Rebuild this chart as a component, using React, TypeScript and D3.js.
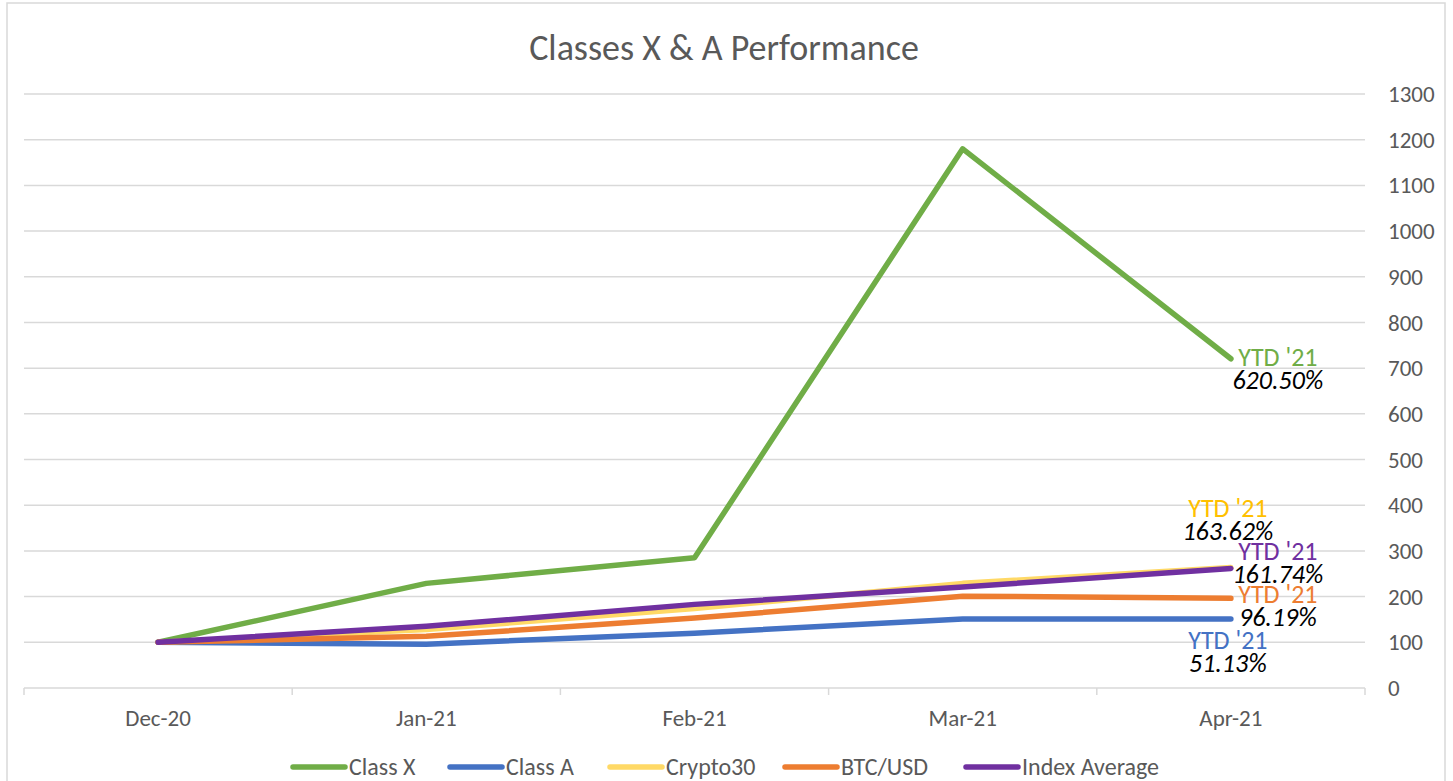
import React from 'react';
import * as d3 from 'd3';

const months = ['Dec-20', 'Jan-21', 'Feb-21', 'Mar-21', 'Apr-21'];
const classX = [100, 229, 285, 1180, 720.5];
const classA = [100, 96, 120, 151, 151.13];
const crypto30 = [100, 128, 174, 229, 263.62];
const btcUsd = [100, 113, 153, 201, 196.19];
const indexAvg = [100, 135, 183, 221, 261.74];
const yTicks = [0, 100, 200, 300, 400, 500, 600, 700, 800, 900, 1000, 1100, 1200, 1300];

const seriesNames = ['Class X', 'Class A', 'Crypto30', 'BTC/USD', 'Index Average'];
const seriesColors = ['#70AD47', '#4472C4', '#FFD966', '#ED7D31', '#7030A0'];
const labelColors = ['#70AD47', '#4472C4', '#FFC000', '#ED7D31', '#7030A0'];
const ytdLabels = ['620.50%', '51.13%', '163.62%', '96.19%', '161.74%'];
// label centre offsets relative to the last point (dx, dy of the "YTD '21" line)
const labelOffsets = [
  [47, -2],
  [-3, 21],
  [-3, -60],
  [47, -4],
  [47, -18],
];

const FONT = 'Carlito, Calibri, Lato, sans-serif';

const App = () => {
  const width = 1453;
  const height = 781;
  const left = 24;
  const right = 1365;
  const top = 94;
  const bottom = 688;

  const x = d3.scaleBand<string>().domain(months).range([left, right]);
  const y = d3.scaleLinear().domain([0, 1300]).range([bottom, top]);
  const cx = (m: string) => (x(m) as number) + x.bandwidth() / 2;

  const allSeries = [classX, classA, crypto30, btcUsd, indexAvg];
  const line = d3
    .line<number>()
    .x((d, i) => cx(months[i]))
    .y((d) => y(d));

  const legendX = [293, 450, 610, 785, 966];

  return (
    <div style={{ position: 'absolute', left: 0, top: 0 }}>
      <svg width={width} height={height} style={{ display: 'block', background: '#fff' }}>
        <rect x={7} y={3} width={1438} height={800} fill="#fff" stroke="#d9d9d9" strokeWidth={1.5} />
        <text x={724} y={47} dy="0.35em" textAnchor="middle" fontFamily={FONT} fontSize={36} fontWeight={300} fill="#595959">
          Classes X &amp; A Performance
        </text>

        {yTicks.map((t) => (
          <g key={t}>
            {t > 0 && (
              <line x1={left} x2={right} y1={y(t)} y2={y(t)} stroke="#d9d9d9" strokeWidth={1.5} />
            )}
            <text x={1388} y={y(t)} dy="0.35em" fontFamily={FONT} fontSize={23} fill="#595959">
              {t}
            </text>
          </g>
        ))}

        {/* category axis */}
        <line x1={left} x2={right} y1={bottom} y2={bottom} stroke="#d9d9d9" strokeWidth={1.5} />
        {d3.range(months.length + 1).map((i) => (
          <line
            key={i}
            x1={left + i * x.bandwidth()}
            x2={left + i * x.bandwidth()}
            y1={bottom}
            y2={bottom + 7}
            stroke="#d9d9d9"
            strokeWidth={1.5}
          />
        ))}
        {months.map((m) => (
          <text key={m} x={cx(m)} y={718} dy="0.35em" textAnchor="middle" fontFamily={FONT} fontSize={23} fill="#595959">
            {m}
          </text>
        ))}

        {allSeries.map((s, i) => (
          <path
            key={seriesNames[i]}
            d={line(s) as string}
            fill="none"
            stroke={seriesColors[i]}
            strokeWidth={5.5}
            strokeLinecap="round"
            strokeLinejoin="round"
          />
        ))}

        {allSeries.map((s, i) => {
          const px = cx(months[4]) + labelOffsets[i][0];
          const py = y(s[4]) + labelOffsets[i][1];
          return (
            <g key={'lbl' + i} fontFamily={FONT} fontSize={26} textAnchor="middle">
              <text x={px} y={py} dy="0.35em" fill={labelColors[i]}>
                YTD '21
              </text>
              <text x={px} y={py + 23} dy="0.35em" fill="#000" fontStyle="italic">
                {ytdLabels[i]}
              </text>
            </g>
          );
        })}

        {seriesNames.map((n, i) => (
          <g key={'leg' + n}>
            <line
              x1={legendX[i]}
              x2={legendX[i] + 52}
              y1={767}
              y2={767}
              stroke={seriesColors[i]}
              strokeWidth={5.5}
              strokeLinecap="round"
            />
            <text x={legendX[i] + 56} y={767} dy="0.35em" fontFamily={FONT} fontSize={24} fill="#595959">
              {n}
            </text>
          </g>
        ))}
      </svg>
    </div>
  );
};

export default App;
